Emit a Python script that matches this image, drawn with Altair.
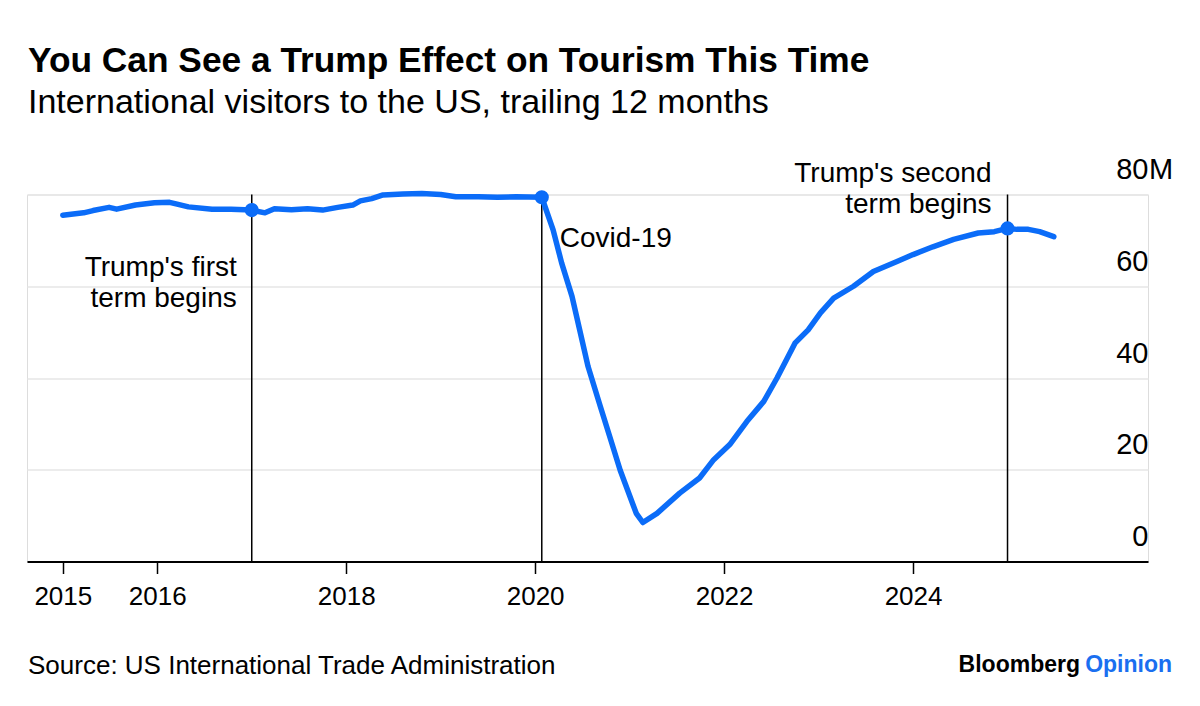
import altair as alt
import pandas as pd

# ---- data ----
years = [2015.0, 2015.22, 2015.32, 2015.49, 2015.57, 2015.77, 2015.97, 2016.13, 2016.21,
         2016.33, 2016.58, 2016.78, 2017.0, 2017.14, 2017.24, 2017.42, 2017.59, 2017.75,
         2017.91, 2018.07, 2018.15, 2018.27, 2018.39, 2018.6, 2018.8, 2019.0, 2019.16,
         2019.4, 2019.6, 2019.8, 2020.07, 2020.19, 2020.28, 2020.39, 2020.47, 2020.56,
         2020.69, 2020.79, 2020.90, 2021.07, 2021.14, 2021.29, 2021.53, 2021.74, 2021.89,
         2022.06, 2022.24, 2022.42, 2022.56, 2022.66, 2022.75, 2022.89, 2023.02, 2023.16,
         2023.37, 2023.58, 2023.83, 2024.0, 2024.21, 2024.43, 2024.69, 2024.86, 2025.0,
         2025.10, 2025.22, 2025.34, 2025.49]
visitors = [75.5, 76.0, 76.5, 77.2, 76.8, 77.7, 78.2, 78.3, 77.9,
            77.3, 76.8, 76.8, 76.6, 76.0, 76.9, 76.7, 76.9, 76.6,
            77.2, 77.7, 78.6, 79.1, 79.9, 80.1, 80.2, 80.0, 79.5,
            79.5, 79.4, 79.5, 79.4, 72.3, 65.1, 57.8, 50.6, 42.5,
            33.8, 27.2, 19.9, 10.5, 8.5, 10.5, 14.9, 18.2, 22.2,
            25.5, 30.5, 34.9, 40.0, 44.0, 47.6, 50.5, 54.2, 57.4,
            60.0, 63.2, 65.4, 66.9, 68.6, 70.2, 71.6, 71.9, 72.6,
            72.4, 72.4, 71.9, 70.8]

event_keys = ["first", "covid", "second"]
event_labels = ["Trump's first\nterm begins", "Covid-19", "Trump's second\nterm begins"]
event_years = [2017.0, 2020.07, 2025.0]
event_values = [76.6, 79.4, 72.6]

x_tick_years = [2015, 2016, 2018, 2020, 2022, 2024]
y_ticks = [0, 20, 40, 60, 80]
y_unit = "M"

title_text = "You Can See a Trump Effect on Tourism This Time"
subtitle_text = "International visitors to the US, trailing 12 months"
source_text = "Source: US International Trade Administration"
brand_1 = "Bloomberg"
brand_2 = "Opinion"

# ---- frames ----
series = pd.DataFrame({"year": years, "visitors": visitors})
events = pd.DataFrame({"key": event_keys, "label": event_labels,
                       "year": event_years, "visitors": event_values})

FONT = "Liberation Sans"
BLUE = "#0b6cf8"
W, H = 1121, 367

x_scale = alt.Scale(domain=[2014.621, 2026.487], nice=False, zero=False)
y_scale = alt.Scale(domain=[0, 80], nice=False)

x_enc = alt.X("year:Q", scale=x_scale, title=None,
              axis=alt.Axis(values=x_tick_years, format="d", grid=False,
                            domainColor="black", domainWidth=2,
                            tickColor="black", tickSize=12, tickWidth=1.5,
                            labelFont=FONT, labelFontSize=26, labelColor="black",
                            labelPadding=10, labelFlush=False))
y_enc = alt.Y("visitors:Q", scale=y_scale, title=None,
              axis=alt.Axis(orient="right", values=y_ticks, grid=True,
                            gridColor="#e6e6e6", gridWidth=1.5,
                            domain=False, ticks=False, tickSize=0,
                            labelAlign="right", labelPadding=0,
                            labelOffset=-25, labelBaseline="middle",
                            labelFont=FONT, labelFontSize=29, labelColor="black"))

base = alt.Chart(series)

line = base.mark_line(color=BLUE, strokeWidth=5.5, strokeCap="round",
                      strokeJoin="round").encode(x=x_enc, y=y_enc)

ev = alt.Chart(events)
rules = ev.mark_rule(color="black", strokeWidth=1.5).encode(
    x=alt.X("year:Q", scale=x_scale),
    y=alt.datum(0, scale=y_scale),
    y2=alt.datum(80),
)
dots = ev.mark_circle(size=200, color=BLUE, opacity=1).encode(
    x=alt.X("year:Q", scale=x_scale),
    y=alt.Y("visitors:Q", scale=y_scale),
)

def anno(key, align, dx, ypix):
    return ev.transform_filter(alt.datum.key == key).mark_text(
        align=align, baseline="alphabetic", dx=dx, font=FONT, fontSize=28,
        color="black", lineBreak="\n", lineHeight=31,
    ).encode(x=alt.X("year:Q", scale=x_scale), y=alt.value(ypix), text="label:N")

a1 = anno("first", "right", -15, 81)
a2 = anno("covid", "left", 18, 52)
a3 = anno("second", "right", -16, -13)

unit = alt.Chart(pd.DataFrame({"t": [y_unit]})).mark_text(
    align="left", baseline="middle", dx=1, dy=-25, font=FONT, fontSize=29,
    color="black"
).encode(x=alt.value(W), y=alt.datum(max(y_ticks), scale=y_scale), text="t:N")

src = alt.Chart(pd.DataFrame({"t": [source_text]})).mark_text(
    align="left", baseline="alphabetic", font=FONT, fontSize=26, color="black"
).encode(x=alt.value(1), y=alt.value(479), text="t:N")
b1 = alt.Chart(pd.DataFrame({"t": [brand_1]})).mark_text(
    align="right", baseline="alphabetic", font=FONT, fontSize=23, fontWeight="bold",
    color="black"
).encode(x=alt.value(1053), y=alt.value(477), text="t:N")
b2 = alt.Chart(pd.DataFrame({"t": [brand_2]})).mark_text(
    align="right", baseline="alphabetic", font=FONT, fontSize=23, fontWeight="bold",
    color="#1a6ff0"
).encode(x=alt.value(1145), y=alt.value(477), text="t:N")

chart = alt.layer(rules, line, dots, a1, a2, a3, unit, src, b1, b2).properties(
    width=W, height=H,
    title=alt.TitleParams(text=title_text, subtitle=subtitle_text, anchor="start",
                          frame="group", font=FONT, fontSize=35.3, fontWeight="bold",
                          color="black", subtitleFont=FONT, subtitleFontSize=34,
                          subtitleColor="black", subtitlePadding=6, offset=36, dx=1),
    autosize=alt.AutoSizeParams(type="none"),
    padding={"left": 19, "top": 186.5, "right": 38, "bottom": 120},
).configure_view(stroke=None).configure(background="white")

chart.save("out.html", embed_options={"renderer": "svg", "actions": False})
